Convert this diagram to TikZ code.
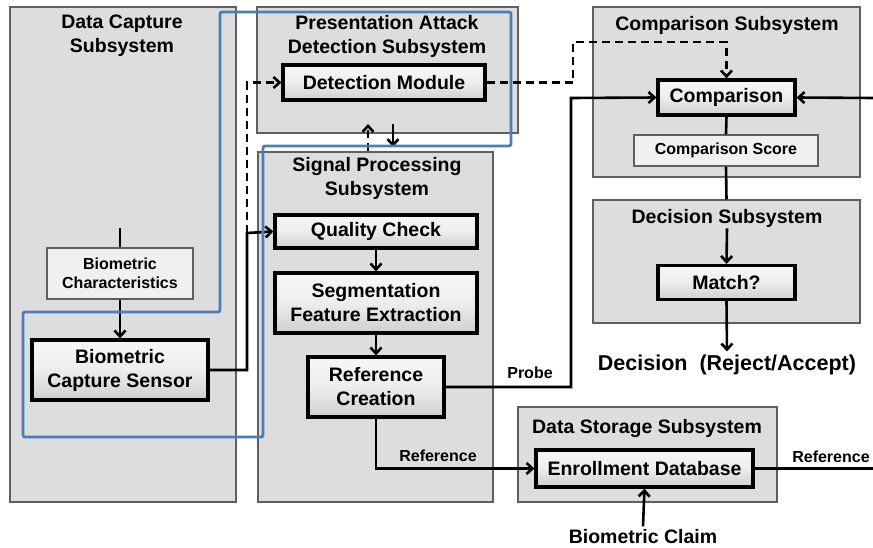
\documentclass[tikz,border=0pt]{standalone}
\usepackage{fontspec}
\setmainfont{Liberation Sans}
\usetikzlibrary{arrows.meta,positioning}

\definecolor{subfill}{RGB}{221,221,221}
\definecolor{subline}{RGB}{95,95,95}
\definecolor{padblue}{RGB}{74,126,187}

\begin{document}
\begin{tikzpicture}
[x=1pt, y=-1pt,
font=\bfseries\fontsize{19.5}{24}\selectfont,
>={Straight Barb[length=6pt,width=11pt]},
subsys/.style={draw=subline, fill=subfill, line width=1.3pt, inner sep=0},
boxtitle/.style={align=center, inner sep=1pt},
module/.style={draw=black, line width=3.2pt, top color=gray!6, bottom color=gray!38, middle color=gray!14, align=center, inner sep=0},
thinbox/.style={draw=subline, fill=gray!12, line width=1.1pt, align=center, inner sep=0, font=\bfseries\fontsize{16}{19}\selectfont},
flow/.style={line width=2.6pt},
dashflow/.style={flow, dash pattern=on 8pt off 5pt},
linelabel/.style={inner sep=1pt, font=\bfseries\fontsize{16}{19}\selectfont},
padline/.style={draw=padblue, line width=2.8pt, rounded corners=2pt},
]
\useasboundingbox (0,0) rectangle (873,548);

% subsystems
\node[subsys, minimum width=226, minimum height=495] (dcs) at (123,254.5) {};
\node[subsys, minimum width=261, minimum height=126] (pad) at (387.5,70) {};
\node[subsys, minimum width=235, minimum height=350] (sps) at (375.5,327) {};
\node[subsys, minimum width=267, minimum height=170] (cps) at (726.5,92) {};
\node[subsys, minimum width=267, minimum height=123] (dss) at (726.5,261.5) {};
\node[subsys, minimum width=259, minimum height=95] (dst) at (647.5,454.5) {};

\node[boxtitle] (dcstitle) at (122,36) {Data Capture\\Subsystem};
\node[boxtitle] (padtitle) at (387,36) {Presentation Attack\\Detection Subsystem};
\node[boxtitle] (spstitle) at (377,178) {Signal Processing\\Subsystem};
\node[boxtitle] (cpstitle) at (727,25) {Comparison Subsystem};
\node[boxtitle] (dsstitle) at (727,218) {Decision Subsystem};
\node[boxtitle] (dsttitle) at (647,428) {Data Storage Subsystem};

% modules
\node[thinbox, minimum width=146, minimum height=51] (bc) at (120,273.5) {Biometric\\Characteristics};
\node[module, minimum width=176, minimum height=60] (bcs) at (120,370) {Biometric\\Capture Sensor};
\node[module, minimum width=202, minimum height=35] (dm) at (384,82.5) {Detection Module};
\node[module, minimum width=202, minimum height=33] (qc) at (376,231.5) {Quality Check};
\node[module, minimum width=202, minimum height=60] (sfe) at (376,303) {Segmentation\\Feature Extraction};
\node[module, minimum width=136, minimum height=60] (rc) at (376,387) {Reference\\Creation};
\node[module, minimum width=137, minimum height=35] (cmp) at (726.5,97.5) {Comparison};
\node[thinbox, minimum width=184, minimum height=31] (cs) at (726,150.5) {Comparison Score};
\node[module, minimum width=137, minimum height=34] (mt) at (726.5,282.5) {Match?};
\node[module, minimum width=217, minimum height=37] (edb) at (644.5,468.5) {Enrollment Database};

\node[font=\bfseries\fontsize{21.5}{24}\selectfont] (dec) at (727,365) {Decision\ \ (Reject/Accept)};
\node (claim) at (643,537) {Biometric Claim};

% connectors
\coordinate (bctop) at (120,228);
\coordinate (jn) at (247,233);
\coordinate (dk) at (573,42);
\coordinate (pk) at (571,98);
\coordinate (rin) at (873,98);
\coordinate (rout) at (873,468.5);
\coordinate (upa) at (368,151);
\coordinate (upb) at (368,124);
\coordinate (dna) at (393,124);
\coordinate (dnb) at (393,147);

\draw[flow] (bctop) -- (bc.north);
\draw[flow, ->] (bc.south) -- (bcs.north);
\draw[flow, ->] (bcs.east) -| (jn) -- (qc.west);
\draw[dashflow, ->] (jn) |- (dm.west);
\draw[dashflow, ->] (dm.east) -| (dk) -| (cmp.north);
\draw[dashflow, ->] (upa) -- (upb);
\draw[flow, ->] (dna) -- (dnb);
\draw[flow, ->] (qc.south) -- (sfe.north);
\draw[flow, ->] (sfe.south) -- (rc.north);
\draw[flow, ->] (rc.east) -| (pk) -- (cmp.west);
\node[linelabel] (probelbl) at (530,373) {Probe};
\draw[flow, ->] (rc.south) |- (edb.west);
\node[linelabel] (reflbl) at (438,456) {Reference};
\draw[flow, ->] (rin) -- (cmp.east);
\draw[flow] (cmp.south) -- (cs.north);
\draw[flow] (cs.south) -- (dss.north);
\draw[flow, ->] (dsstitle.south) -- (mt.north);
\draw[flow, ->] (mt.south) -- (dec.north);
\draw[flow] (edb.east) -- (rout);
\node[linelabel] (refout) at (831,457) {Reference};
\draw[flow, ->] (claim.north) -- (edb.south);

% PAD boundary
\draw[padline] (220,12) -- (511,12) -- (511,146) -- (263,146) -- (263,437)
  -- (23,437) -- (23,312) -- (220,312) -- cycle;
\end{tikzpicture}
\end{document}
